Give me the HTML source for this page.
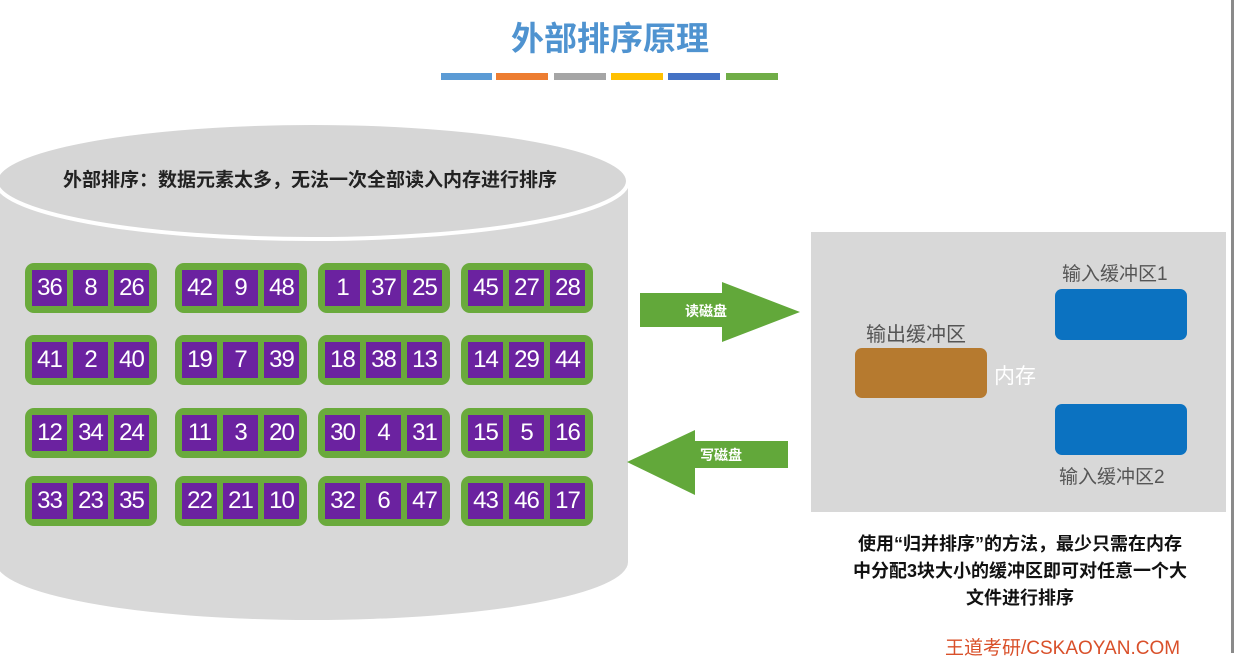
<!DOCTYPE html>
<html><head><meta charset="utf-8"><style>
html,body{margin:0;padding:0;background:#fff;}
body{width:1235px;height:653px;position:relative;overflow:hidden;font-family:"Liberation Sans","Noto Sans CJK SC",sans-serif;}
.abs{position:absolute;}
.g{position:absolute;background:#6aaa3c;border-radius:9px;width:132px;height:50px;}
.c{position:absolute;top:7px;width:35px;height:36px;background:#6b22a0;color:#fff;font-size:24px;line-height:36px;text-align:center;letter-spacing:-1px;}
.c:nth-child(1){left:7px}.c:nth-child(2){left:48px}.c:nth-child(3){left:89px}
</style></head><body>
<div class="abs" style="left:1231px;top:0;width:3px;height:653px;background:#8a8a8a;"></div>
<div class="abs" style="left:440px;top:12px;width:340px;text-align:center;font-size:33px;font-weight:bold;color:#4f93d0;font-family:'Noto Sans CJK SC',sans-serif;">外部排序原理</div>
<div class="abs" style="left:441px;top:73px;width:51px;height:7px;background:#5b9bd5"></div>
<div class="abs" style="left:496px;top:73px;width:52px;height:7px;background:#ed7d31"></div>
<div class="abs" style="left:554px;top:73px;width:52px;height:7px;background:#a5a5a5"></div>
<div class="abs" style="left:611px;top:73px;width:52px;height:7px;background:#ffc000"></div>
<div class="abs" style="left:668px;top:73px;width:52px;height:7px;background:#4472c4"></div>
<div class="abs" style="left:726px;top:73px;width:52px;height:7px;background:#70ad47"></div>

<svg class="abs" style="left:0;top:0" width="1235" height="653">
<rect x="-4" y="181" width="632" height="381" fill="#d8d8d8"/>
<ellipse cx="312" cy="562" rx="316" ry="58" fill="#d8d8d8"/>
<ellipse cx="312" cy="181" rx="316" ry="58" fill="#d6d6d6" stroke="#fff" stroke-width="4"/>
<rect x="811" y="232" width="415" height="280" fill="#d8d8d8"/>
<polygon points="640,293 722,293 722,282 800,312 722,342 722,327 640,327" fill="#62a83a"/>
<polygon points="627,462 695,430 695,441 788,441 788,468 695,468 695,495" fill="#62a83a"/>
<text x="706" y="316" font-size="14" font-weight="bold" fill="#fff" text-anchor="middle" font-family="Noto Sans CJK SC,sans-serif">读磁盘</text>
<text x="721" y="460" font-size="14" font-weight="bold" fill="#fff" text-anchor="middle" font-family="Noto Sans CJK SC,sans-serif">写磁盘</text>
<rect x="855" y="348" width="132" height="50" rx="7" fill="#b67a2f"/>
<rect x="1055" y="289" width="132" height="51" rx="7" fill="#0b72c1"/>
<rect x="1055" y="404" width="132" height="51" rx="7" fill="#0b72c1"/>
</svg>
<div class="abs" style="left:0;top:165px;width:620px;text-align:center;font-size:19px;font-weight:bold;color:#222;font-family:'Noto Sans CJK SC',sans-serif;">外部排序：数据元素太多，无法一次全部读入内存进行排序</div>
<div class="abs" style="left:866px;top:318px;font-size:20px;color:#555;font-family:'Noto Sans CJK SC',sans-serif;">输出缓冲区</div>
<div class="abs" style="left:994px;top:360px;font-size:21px;color:#fff;font-family:'Noto Sans CJK SC',sans-serif;">内存</div>
<div class="abs" style="left:1062px;top:259px;font-size:19px;color:#555;font-family:'Liberation Sans','Noto Sans CJK SC',sans-serif;">输入缓冲区1</div>
<div class="abs" style="left:1059px;top:462px;font-size:19px;color:#555;font-family:'Liberation Sans','Noto Sans CJK SC',sans-serif;">输入缓冲区2</div>
<div class="abs" style="left:810px;top:531px;width:420px;text-align:center;font-size:18px;line-height:27px;font-weight:bold;color:#111;font-family:'Liberation Sans','Noto Sans CJK SC',sans-serif;">使用“归并排序”的方法，最少只需在内存<br>中分配3块大小的缓冲区即可对任意一个大<br>文件进行排序</div>
<div class="abs" style="left:945px;top:633px;font-size:19px;color:#d9502a;font-family:'Liberation Sans','Noto Sans CJK SC',sans-serif;">王道考研/CSKAOYAN.COM</div>

<div class="g" style="left:25px;top:263px"><div class="c">36</div><div class="c">8</div><div class="c">26</div></div>
<div class="g" style="left:175px;top:263px"><div class="c">42</div><div class="c">9</div><div class="c">48</div></div>
<div class="g" style="left:318px;top:263px"><div class="c">1</div><div class="c">37</div><div class="c">25</div></div>
<div class="g" style="left:461px;top:263px"><div class="c">45</div><div class="c">27</div><div class="c">28</div></div>

<div class="g" style="left:25px;top:335px"><div class="c">41</div><div class="c">2</div><div class="c">40</div></div>
<div class="g" style="left:175px;top:335px"><div class="c">19</div><div class="c">7</div><div class="c">39</div></div>
<div class="g" style="left:318px;top:335px"><div class="c">18</div><div class="c">38</div><div class="c">13</div></div>
<div class="g" style="left:461px;top:335px"><div class="c">14</div><div class="c">29</div><div class="c">44</div></div>

<div class="g" style="left:25px;top:408px"><div class="c">12</div><div class="c">34</div><div class="c">24</div></div>
<div class="g" style="left:175px;top:408px"><div class="c">11</div><div class="c">3</div><div class="c">20</div></div>
<div class="g" style="left:318px;top:408px"><div class="c">30</div><div class="c">4</div><div class="c">31</div></div>
<div class="g" style="left:461px;top:408px"><div class="c">15</div><div class="c">5</div><div class="c">16</div></div>

<div class="g" style="left:25px;top:476px"><div class="c">33</div><div class="c">23</div><div class="c">35</div></div>
<div class="g" style="left:175px;top:476px"><div class="c">22</div><div class="c">21</div><div class="c">10</div></div>
<div class="g" style="left:318px;top:476px"><div class="c">32</div><div class="c">6</div><div class="c">47</div></div>
<div class="g" style="left:461px;top:476px"><div class="c">43</div><div class="c">46</div><div class="c">17</div></div>
</body></html>
